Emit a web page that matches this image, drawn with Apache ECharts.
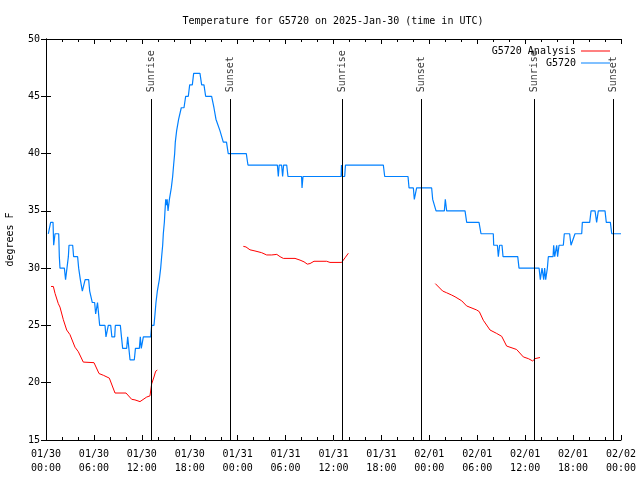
<!DOCTYPE html>
<html><head><meta charset="utf-8">
<script src="https://cdn.jsdelivr.net/npm/echarts@6/dist/echarts.min.js"></script>
<style>html,body{margin:0;padding:0;background:#fff}#c{width:640px;height:480px}</style>
</head><body><div id="c"></div>
<script>
// Hours since 2025-01-30 00:00 UTC
const obsHours = [0.29,0.5,0.58,0.88,0.96,1.05,1.13,1.59,1.67,1.75,2.30,2.45,2.62,2.80,2.88,3.34,3.46,3.96,4.09,4.30,4.55,4.80,4.90,5.34,5.47,5.65,5.80,6.09,6.22,6.32,6.45,6.60,6.72,7.39,7.51,7.68,7.80,8.10,8.25,8.60,8.68,9.31,9.45,9.60,10.10,10.23,10.35,10.52,11.06,11.20,11.69,11.81,11.93,12.07,12.19,13.11,13.23,13.52,13.65,13.77,13.94,14.19,14.36,14.48,14.61,14.69,14.82,14.90,14.99,15.10,15.17,15.28,15.45,15.69,15.86,15.98,16.11,16.19,16.36,16.61,16.94,17.28,17.49,17.82,17.99,18.32,18.49,19.28,19.49,19.78,19.99,20.74,21.03,21.28,21.53,21.78,22.03,22.20,22.60,22.82,25.08,25.29,28.97,29.09,29.20,29.50,29.63,29.75,30.14,30.30,32.00,32.06,32.18,36.95,37.00,37.10,37.40,37.50,42.24,42.41,45.33,45.46,46.00,46.12,46.28,46.41,48.29,48.42,48.63,48.84,49.88,50.00,50.17,52.47,52.68,54.22,54.47,56.01,56.06,56.52,56.64,56.80,57.10,57.23,59.07,59.23,61.74,61.90,62.11,62.32,62.44,62.57,62.78,62.90,63.49,63.57,63.70,63.95,64.06,64.24,64.78,64.90,65.57,65.74,65.99,66.24,67.08,67.16,68.08,68.25,68.75,68.95,69.16,70.00,70.16,70.67,70.84,72.00];
const obsTempF = [33,33,34,34,32,32,33,33,31,30,30,29,29,31,32,32,31,31,30,29,28,28,29,29,28,28,27,27,26,26,27,27,25,25,24,24,25,25,24,24,25,25,24,23,23,24,24,22,22,23,23,24,23,23,24,24,25,25,26,27,28,29,30,31,32,33,34,35,36,35.5,36,35,36,37,38,39,40,41,42,43,44,44,45,45,46,46,47,47,46,46,45,45,44,43,43,42,42,41,41,40,40,39,39,38,39,39,38,39,39,38,38,37,38,38,39,38,38,39,39,38,38,37,37,36,36,37,37,36,36,35,35,36,35,35,34,34,33,33,32,32,31,32,32,31,31,30,30,29,30,29,30,29,30,31,31,32,31,32,31,32,32,33,33,32,32,33,33,34,34,35,35,34,35,35,34,34,33,33];

const anaHours1 = [0.63,0.92,1.13,1.54,1.75,2.17,2.59,3.0,3.63,4.05,4.67,6.01,6.64,7.18,7.93,8.64,10.02,10.73,11.14,11.77,12.61,13.02,13.23,13.52,13.73,13.94];
const anaTemp1  = [28.4,28.4,27.8,26.9,26.6,25.5,24.6,24.2,23.1,22.7,21.8,21.75,20.8,20.65,20.4,19.1,19.1,18.55,18.5,18.35,18.75,18.85,19.9,20.5,21.0,21.1];
const anaHours2 = [24.71,25.04,25.54,26.17,27.0,27.63,28.26,28.9,29.31,29.72,31.18,31.81,32.31,32.72,33.06,33.56,35.14,35.56,37.02,37.44,37.86];
const anaTemp2  = [31.9,31.85,31.6,31.5,31.35,31.15,31.15,31.2,31.0,30.85,30.85,30.7,30.55,30.35,30.4,30.6,30.6,30.5,30.5,30.9,31.3];
const anaHours3 = [48.75,49.0,49.67,50.17,50.8,51.22,52.05,52.67,53.92,54.26,54.76,55.6,56.43,57.06,57.68,58.93,59.77,60.4,60.94,61.23,61.86];
const anaTemp3  = [28.65,28.65,28.0,27.85,27.65,27.5,27.15,26.7,26.35,26.2,25.45,24.6,24.3,24.05,23.2,22.9,22.25,22.1,21.9,22.1,22.2];

const sunEventHours = [13.22, 23.08, 37.1, 47.0, 61.19, 71.04];
const sunEventNames = ['Sunrise','Sunset','Sunrise','Sunset','Sunrise','Sunset'];

const xTickLabels = ['01/30\n00:00','01/30\n06:00','01/30\n12:00','01/30\n18:00','01/31\n00:00','01/31\n06:00','01/31\n12:00','01/31\n18:00','02/01\n00:00','02/01\n06:00','02/01\n12:00','02/01\n18:00','02/02\n00:00'];

const FONT = 'DejaVu Sans Mono';
const pair = (xs, ys) => xs.map((x, i) => [x, ys[i]]);
const analysisData = pair(anaHours1, anaTemp1).concat([[18.5, '-']], pair(anaHours2, anaTemp2), [[43, '-']], pair(anaHours3, anaTemp3));
const obsData = pair(obsHours, obsTempF);

const txt = {fontFamily: FONT, fontSize: 10, color: '#000'};
const chart = echarts.init(document.getElementById('c'), null, {renderer: 'canvas'});
const xCommon = {
  type: 'value', min: 0, max: 72, interval: 6,
  axisLine: {show: true, lineStyle: {color: '#000', width: 1}},
  axisTick: {show: true, inside: true, length: 5, lineStyle: {color: '#000'}},
  minorTick: {show: true, splitNumber: 3, length: 3, lineStyle: {color: '#000'}},
  splitLine: {show: false}
};
const yCommon = {
  type: 'value', min: 15, max: 50, interval: 5,
  axisLine: {show: true, lineStyle: {color: '#000', width: 1}},
  axisTick: {show: true, inside: true, length: 5, lineStyle: {color: '#000'}},
  splitLine: {show: false}
};
chart.setOption({
  animation: false,
  backgroundColor: '#fff',
  title: {
    text: 'Temperature for G5720 on 2025-Jan-30 (time in UTC)',
    left: 333, top: 16, textAlign: 'center', padding: 0,
    textStyle: Object.assign({fontWeight: 'normal'}, txt)
  },
  legend: [
    {data: ['G5720 Analysis'], right: 30, top: 46, align: 'right', orient: 'vertical', padding: 0,
     icon: 'rect', itemWidth: 29, itemHeight: 1, textStyle: txt, selectedMode: false},
    {data: ['G5720'], right: 30, top: 58, align: 'right', orient: 'vertical', padding: 0,
     icon: 'rect', itemWidth: 29, itemHeight: 1, textStyle: txt, selectedMode: false}
  ],
  grid: {left: 46, right: 19, top: 39, bottom: 40, show: false, containLabel: false, outerBoundsMode: 'none'},
  xAxis: [
    Object.assign({}, xCommon, {position: 'bottom',
      axisLabel: Object.assign({show: true, margin: 7, lineHeight: 14,
        formatter: v => xTickLabels[Math.round(v / 6)]}, txt)}),
    Object.assign({}, xCommon, {position: 'top', axisLabel: {show: false}})
  ],
  yAxis: [
    Object.assign({}, yCommon, {position: 'left', name: 'degrees F', nameLocation: 'middle', nameGap: 31,
      nameTextStyle: txt, axisLabel: Object.assign({margin: 6}, txt)}),
    Object.assign({}, yCommon, {position: 'right', axisLabel: {show: false}})
  ],
  series: [
    {name: 'G5720 Analysis', type: 'line', data: analysisData, showSymbol: false, connectNulls: false,
     color: '#ff0000', lineStyle: {color: '#ff0000', width: 1}},
    {name: 'G5720', type: 'line', data: obsData, showSymbol: false,
     color: '#0080ff', lineStyle: {color: '#0080ff', width: 1.2}},
    {name: 'sun', type: 'scatter', symbolSize: 0,
     data: sunEventHours.map(h => [h, 45.35]),
     label: Object.assign({show: true, position: 'inside', rotate: 90, align: 'left', verticalAlign: 'middle',
       padding: 0, formatter: p => sunEventNames[p.dataIndex]}, txt),
     markLine: {silent: true, symbol: ['none', 'none'], label: {show: false},
       lineStyle: {color: '#000', width: 1, type: 'solid'},
       data: sunEventHours.map(h => [{coord: [h, 15]}, {coord: [h, 44.76]}])}
    }
  ]
});
</script>
</body></html>
